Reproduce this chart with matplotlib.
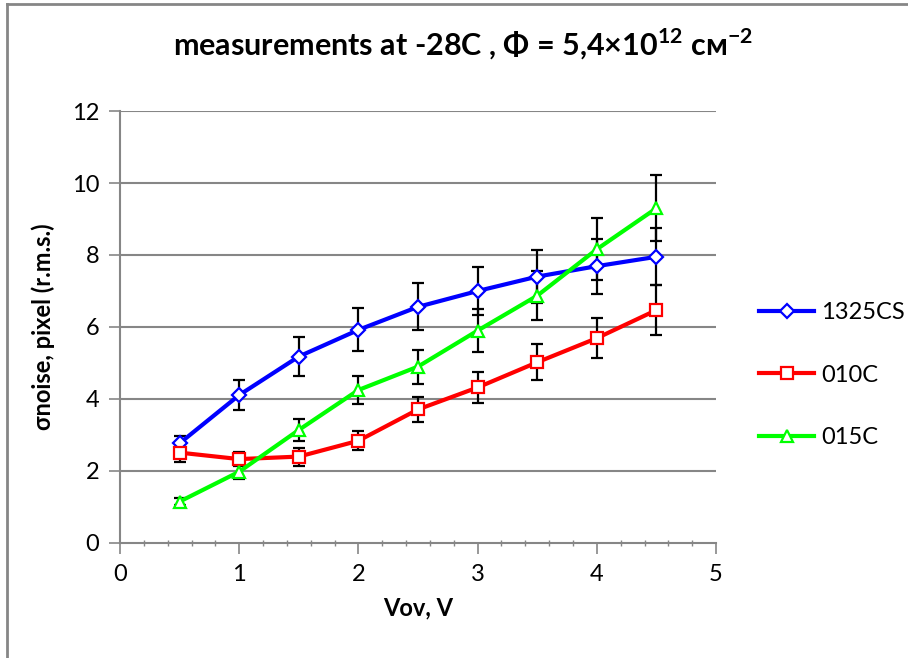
import numpy as np
import matplotlib
matplotlib.use('Agg')
import matplotlib.pyplot as plt
from matplotlib.lines import Line2D

plt.rcParams['font.family'] = ['Lato', 'DejaVu Sans']
plt.rcParams['mathtext.fontset'] = 'custom'
plt.rcParams['mathtext.rm'] = 'Lato'
plt.rcParams['mathtext.bf'] = 'Lato:bold'

vov = [0.5, 1.0, 1.5, 2.0, 2.5, 3.0, 3.5, 4.0, 4.5]

s1325cs = [2.77, 4.11, 5.18, 5.92, 6.56, 7.00, 7.40, 7.69, 7.95]
e1325cs = [0.20, 0.42, 0.54, 0.60, 0.65, 0.66, 0.74, 0.76, 0.79]

s010c = [2.51, 2.33, 2.40, 2.84, 3.71, 4.32, 5.02, 5.69, 6.47]
e010c = [0.27, 0.20, 0.25, 0.27, 0.35, 0.42, 0.50, 0.56, 0.70]

s015c = [1.15, 1.98, 3.14, 4.25, 4.90, 5.90, 6.87, 8.16, 9.30]
e015c = [0.10, 0.20, 0.30, 0.38, 0.47, 0.59, 0.68, 0.86, 0.92]

names = ['1325CS', '010C', '015C']
colors = ['#0000ff', '#ff0000', '#00ff00']
markers = ['D', 's', '^']
msizes = [7, 8, 9]

fig = plt.figure(figsize=(9.08, 6.58), dpi=100)
ax = fig.add_axes([0.1322, 0.1748, 0.6564, 0.6565])

grey = '#868686'
for y in range(2, 13, 2):
    ax.axhline(y, color=grey, lw=1.5, zorder=1)

series = [(s1325cs, e1325cs), (s010c, e010c), (s015c, e015c)]
handles = []
for (vals, errs), name, c, m, ms in zip(series, names, colors, markers, msizes):
    ax.errorbar(vov, vals, yerr=errs, fmt='none', ecolor='black',
                elinewidth=1.6, capsize=4, capthick=1.6, zorder=2)
    ax.plot(vov, vals, color=c, lw=3, marker=m, markersize=ms,
            markerfacecolor='white', markeredgecolor=c, markeredgewidth=1.6,
            zorder=3)
    handles.append(Line2D([], [], color=c, lw=3, marker=m, markersize=ms,
                          markerfacecolor='white', markeredgecolor=c,
                          markeredgewidth=1.6))

ax.set_xlim(0, 5)
ax.set_ylim(0, 12)
ax.set_xticks(range(0, 6))
ax.set_xticks(np.arange(0, 5.01, 0.2), minor=True)
ax.set_yticks(range(0, 13, 2))

for s in ['top', 'right']:
    ax.spines[s].set_visible(False)
for s in ['left', 'bottom']:
    ax.spines[s].set_color(grey)
    ax.spines[s].set_linewidth(1.5)

ax.tick_params(axis='both', which='major', direction='out', length=8,
               width=1.2, color=grey, labelsize=17, pad=7)
ax.tick_params(axis='x', which='minor', direction='inout', length=5,
               width=1, color=grey)

ax.set_xlabel('Vov, V', fontsize=17, fontweight='bold', labelpad=8)
ax.set_ylabel('σnoise, pixel (r.m.s.)', fontsize=17, fontweight='bold',
              labelpad=12)

fig.text(0.51, 0.932,
         r'measurements at -28C , Φ = 5,4×10$^{\mathbf{12}}$ cм$^{\mathbf{-2}}$',
         ha='center', va='center', fontsize=22, fontweight='bold')

fig.legend(handles, names, loc='center left', bbox_to_anchor=(0.826, 0.43),
           frameon=False, fontsize=17, handlelength=2.3, labelspacing=1.75,
           handletextpad=0.3, borderaxespad=0)

# outer frame (left and top edges only)
fig.add_artist(Line2D([0.008, 0.008], [0, 0.994], color=grey, lw=2,
                      transform=fig.transFigure))
fig.add_artist(Line2D([0.008, 1.0], [0.994, 0.994], color=grey, lw=2,
                      transform=fig.transFigure))

fig.savefig('out.png', dpi=100)
